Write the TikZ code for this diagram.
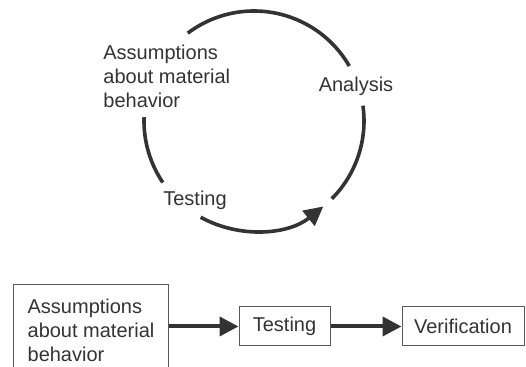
\documentclass[tikz,border=0pt]{standalone}
\usepackage{fontspec}
\setmainfont{Liberation Sans}
\usetikzlibrary{arrows.meta,positioning}
\definecolor{ink}{HTML}{333333}

\begin{document}
\begin{tikzpicture}[x=0.5pt,y=0.5pt,>={Triangle[length=9.5pt,width=9.5pt]},
                    ink,text=ink,
                    cyc/.style={line width=1.8pt},
                    flow/.style={->,line width=2pt},
                    box/.style={draw=black!65,line width=0.5pt,inner sep=0pt}]

  \useasboundingbox (0,0) rectangle (526,-367);

  % the loop
  \coordinate (c) at (254,-121);
  \draw[cyc] ([shift={(127:55pt)}]c) arc (127:30:55pt);
  \draw[cyc] ([shift={(8:55pt)}]c)   arc (8:-45:55pt);
  \draw[cyc] ([shift={(178:55pt)}]c) arc (178:214:55pt);
  \draw[cyc,->] ([shift={(241:55pt)}]c) arc (241:309:55pt);

  \node[align=left,anchor=west,inner sep=0pt] (assume) at (103,-76)
       {Assumptions\\about material\\behavior};
  \node (analysis) at (356,-86)  {Analysis};
  \node (testing)  at (195,-200) {Testing};

  % the chain
  \node[box,anchor=north west,inner xsep=7pt,minimum width=77.5pt,
        minimum height=46pt,align=left] (assume2) at (13,-284)
       {Assumptions\\about material\\behavior};
  \node[box,minimum width=45.5pt,minimum height=19.5pt] (test2) at (284.5,-326.5) {Testing};
  \node[box,minimum width=61pt,minimum height=19.5pt]   (verif) at (463,-326.5)   {Verification};

  \path[flow] (assume2.east |- test2) edge (test2.west)
              (test2.east)            edge (verif.west);
\end{tikzpicture}
\end{document}
